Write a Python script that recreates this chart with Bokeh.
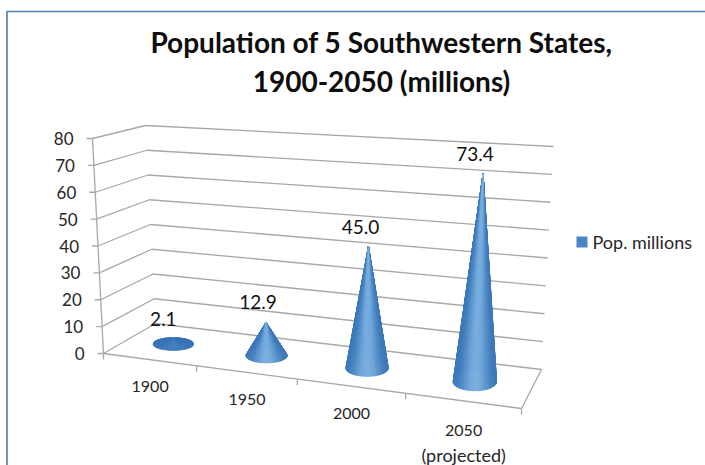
import math
from bokeh.plotting import figure
from bokeh.models import Range1d
from bokeh.core.properties import value
from bokeh.embed import file_html
from bokeh.resources import INLINE

title_lines = ["Population of 5 Southwestern States,", "1900-2050 (millions)"]
categories = ["1900", "1950", "2000", "2050\n(projected)"]
pop_millions = [2.1, 12.9, 45.0, 73.4]
pop_labels = ["2.1", "12.9", "45.0", "73.4"]
y_ticks = [0, 10, 20, 30, 40, 50, 60, 70, 80]
series_name = "Pop. millions"

W, H = 705, 465
FONT = "Lato"
GRID = "#a8a8a8"

# perspective frame of the pseudo-3D chart (page pixels)
FL, FR, BR, BL = (103, 353), (521, 408), (541, 369), (155, 323)
VMAX = 80
UP_FL, UP_BL, UP_BR = (-11, -215), (-10, -198), (12, -223)


def lerp(a, b, t):
    return (a[0] + (b[0] - a[0]) * t, a[1] + (b[1] - a[1]) * t)


def up(pt, vec, v):
    return (pt[0] + vec[0] * v / VMAX, pt[1] + vec[1] * v / VMAX)


def warp(u):
    return u - 0.145 * u * (1 - u)


def floor(u, d):
    w = warp(u)
    return lerp(lerp(FL, FR, w), lerp(BL, BR, w), d)


p = figure(width=W, height=H, output_backend="svg", toolbar_location=None,
           x_range=Range1d(0, W), y_range=Range1d(H, 0),
           min_border=0, background_fill_color="white", border_fill_color="white",
           outline_line_color=None, tools="")
p.axis.visible = False
p.grid.visible = False

# chart frame
p.line([6.5, 6.5, W], [H, 11, 11], line_color="#4f7fa8", line_width=1.6)

# gridlines on both walls
for v in y_ticks:
    a, b, c = up(FL, UP_FL, v), up(BL, UP_BL, v), up(BR, UP_BR, v)
    p.line([a[0], b[0], c[0]], [a[1], b[1], c[1]], line_color=GRID, line_width=1.3)
    p.line([a[0] - 6, a[0]], [a[1], a[1]], line_color=GRID, line_width=1.3)
    p.text([a[0] - 19], [a[1]], text=[str(v)], text_align="right", text_baseline="middle",
           text_font=value(FONT), text_font_size="17px", text_color="#262626")

# axis lines, floor edges
top_fl = up(FL, UP_FL, VMAX)
p.line([top_fl[0], FL[0]], [top_fl[1], FL[1]], line_color=GRID, line_width=1.3)
p.line([FL[0], FR[0], BR[0]], [FL[1], FR[1], BR[1]], line_color=GRID, line_width=1.3)
for i in range(len(categories) + 1):
    t = floor(i / len(categories), 0)
    p.line([t[0], t[0]], [t[1], t[1] + 6], line_color=GRID, line_width=1.3)

# category labels
for i, cat in enumerate(categories):
    base = floor((i + 0.5) / len(categories), 0)
    rows = cat.split("\n")
    for j, line in enumerate(rows):
        p.text([base[0] + 1], [base[1] + 27 + 3 * (len(rows) - 1) + j * 24], text=[line],
               text_align="center", text_baseline="middle", text_font=value(FONT),
               text_font_size="18px" if j else "16px", text_color="#262626")


def shade(t):
    dark, light = (0x36, 0x72, 0xb6), (0x78, 0xae, 0xde)
    return "#%02x%02x%02x" % tuple(round(d + (l - d) * t) for d, l in zip(dark, light))


# cones
xs, ys, cols = [], [], []
STEPS = 72
for i, v in enumerate(pop_millions):
    u = (i + 0.5) / len(categories)
    w = warp(u)
    cx, cy = floor(u, 0.5)
    rx, ry = 20 + 2 * w, 6 + 3.4 * w
    h = v * (2.42 + 0.48 * w)
    ax, ay = cx + h * (-0.05 + 0.104 * w), cy - h
    band = min(1, h / 30)
    order = sorted(range(STEPS), key=lambda k: math.sin(2 * math.pi * (k + 0.5) / STEPS))
    for k in order:
        t0, t1 = 2 * math.pi * k / STEPS, 2 * math.pi * (k + 1) / STEPS
        mid = (t0 + t1) / 2
        s = math.sin(mid)
        c = (0.12 + 0.88 * max(s, 0) ** 5) * band if s > 0 else 0.0
        xs.append([ax, cx + rx * math.cos(t0), cx + rx * math.cos(t1)])
        ys.append([ay, cy + ry * math.sin(t0), cy + ry * math.sin(t1)])
        cols.append(shade(c))
    lx, ly = ax - 8 if i else cx - 10, ay - 20
    p.text([lx], [ly], text=[pop_labels[i]], text_align="center", text_baseline="middle",
           text_font=value(FONT), text_font_size="19px", text_color="#111111")
p.patches(xs, ys, fill_color=cols, line_color=cols, line_width=0.8)

# title
for line, y in zip(title_lines, (41, 80)):
    p.text([381], [y], text=[line], text_align="center", text_baseline="middle",
           text_font=value(FONT), text_font_style="bold", text_font_size="28px",
           text_color="#0d0d0d")

# legend
p.quad(left=[576], right=[587], top=[236], bottom=[247], fill_color="#4a86c5", line_color=None)
p.text([592], [241], text=[series_name], text_align="left", text_baseline="middle",
       text_font=value(FONT), text_font_size="18px", text_color="#262626")

open("out.html", "w").write(file_html(p, INLINE))
